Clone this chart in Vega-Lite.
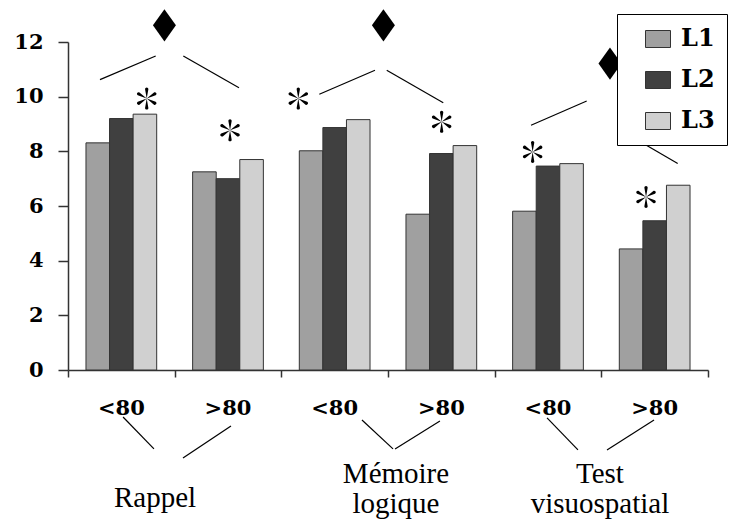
{
  "$schema": "https://vega.github.io/schema/vega-lite/v6.json",
  "autosize": {"type": "none"},
  "padding": {"left": 68, "top": 42, "right": 30, "bottom": 159},
  "width": 640,
  "height": 328,
  "background": "white",
  "config": {
    "view": {"stroke": null},
    "axis": {
      "domainColor": "#333333",
      "tickColor": "#333333",
      "domainWidth": 1.5,
      "tickWidth": 1.5,
      "grid": false,
      "labelFont": "DejaVu Serif",
      "labelFontWeight": "bold",
      "labelFontSize": 21,
      "labelColor": "#000000",
      "title": null
    }
  },
  "datasets": {
    "bars": [
      {"g": "R <80", "s": "L1", "v": 8.31},
      {"g": "R <80", "s": "L2", "v": 9.2},
      {"g": "R <80", "s": "L3", "v": 9.36},
      {"g": "R >80", "s": "L1", "v": 7.25},
      {"g": "R >80", "s": "L2", "v": 7.0},
      {"g": "R >80", "s": "L3", "v": 7.7},
      {"g": "M <80", "s": "L1", "v": 8.02},
      {"g": "M <80", "s": "L2", "v": 8.87},
      {"g": "M <80", "s": "L3", "v": 9.16},
      {"g": "M >80", "s": "L1", "v": 5.7},
      {"g": "M >80", "s": "L2", "v": 7.92},
      {"g": "M >80", "s": "L3", "v": 8.21},
      {"g": "T <80", "s": "L1", "v": 5.81},
      {"g": "T <80", "s": "L2", "v": 7.46},
      {"g": "T <80", "s": "L3", "v": 7.55},
      {"g": "T >80", "s": "L1", "v": 4.43},
      {"g": "T >80", "s": "L2", "v": 5.46},
      {"g": "T >80", "s": "L3", "v": 6.76}
    ],
    "ann": [
      {"kind": "line", "x": 0.300, "y": 10.625, "x2": 0.822, "y2": 11.49},
      {"kind": "line", "x": 1.081, "y": 11.49, "x2": 1.603, "y2": 10.33},
      {"kind": "line", "x": 2.356, "y": 10.09, "x2": 2.878, "y2": 10.965},
      {"kind": "line", "x": 2.988, "y": 10.965, "x2": 3.518, "y2": 9.78},
      {"kind": "line", "x": 4.341, "y": 8.955, "x2": 4.863, "y2": 9.84},
      {"kind": "line", "x": 5.197, "y": 8.735, "x2": 5.716, "y2": 7.555},
      {"kind": "line", "x": 0.516, "y": -1.718, "x2": 0.806, "y2": -2.887},
      {"kind": "line", "x": 1.078, "y": -3.216, "x2": 1.528, "y2": -2.047},
      {"kind": "line", "x": 2.756, "y": -1.827, "x2": 3.047, "y2": -2.887},
      {"kind": "line", "x": 3.066, "y": -2.887, "x2": 3.487, "y2": -1.864},
      {"kind": "line", "x": 4.491, "y": -1.754, "x2": 4.781, "y2": -2.924},
      {"kind": "line", "x": 5.053, "y": -2.924, "x2": 5.494, "y2": -1.827},
      {"kind": "diamond", "x": 0.904, "y": 12.61},
      {"kind": "diamond", "x": 2.957, "y": 12.61},
      {"kind": "diamond", "x": 5.081, "y": 11.21},
      {"kind": "star", "x": 0.738, "y": 9.93},
      {"kind": "star", "x": 1.519, "y": 8.77},
      {"kind": "star", "x": 2.159, "y": 9.93},
      {"kind": "star", "x": 3.503, "y": 9.08},
      {"kind": "star", "x": 4.356, "y": 7.98},
      {"kind": "star", "x": 5.419, "y": 6.33},
      {"kind": "label", "x": 0.816, "y": -5.02, "text": "Rappel"},
      {"kind": "label", "x": 3.075, "y": -4.13, "text": "Mémoire"},
      {"kind": "label", "x": 3.075, "y": -5.23, "text": "logique"},
      {"kind": "label", "x": 4.987, "y": -4.13, "text": "Test"},
      {"kind": "label", "x": 4.987, "y": -5.23, "text": "visuospatial"}
    ]
  },
  "resolve": {"scale": {"x": "independent"}, "axis": {"x": "independent"}},
  "layer": [
    {
      "data": {"name": "bars"},
      "mark": {"type": "bar", "stroke": "#333333", "strokeWidth": 1},
      "encoding": {
        "x": {
          "field": "g", "type": "nominal", "sort": null,
          "scale": {"paddingInner": 0.337, "paddingOuter": 0.1685},
          "axis": {"orient": "bottom", "ticks": false, "tickSize": 0, "domain": false, "labelAngle": 0, "labelPadding": 27,
                   "labelFont": "DejaVu Serif", "labelFontWeight": "bold", "labelFontSize": 21, "labelExpr": "slice(datum.value, 2)"}
        },
        "xOffset": {"field": "s", "type": "nominal"},
        "y": {
          "field": "v", "type": "quantitative",
          "scale": {"domain": [0, 12], "nice": false, "zero": true},
          "axis": {"values": [0, 2, 4, 6, 8, 10, 12], "tickSize": 10, "labelPadding": 15,
                   "labelFont": "DejaVu Serif", "labelFontWeight": "bold", "labelFontSize": 21}
        },
        "color": {
          "field": "s", "type": "nominal",
          "scale": {"domain": ["L1", "L2", "L3"], "range": ["#a0a0a0", "#404040", "#d0d0d0"]},
          "legend": {
            "title": null,
            "orient": "none",
            "legendX": 549,
            "legendY": -28,
            "padding": 12,
            "strokeColor": "#000000",
            "fillColor": "#ffffff",
            "symbolType": "M-1,-0.68L1,-0.68L1,0.68L-1,0.68Z",
            "symbolSize": 625,
            "symbolStrokeColor": "#333333",
            "symbolStrokeWidth": 1,
            "symbolOpacity": 1,
            "symbolOffset": 16,
            "rowPadding": 16,
            "labelOffset": 10,
            "labelFont": "DejaVu Serif",
            "labelFontWeight": "bold",
            "labelFontSize": 24,
            "labelColor": "#000000",
            "labelExpr": "datum.label + '\u00a0\u00a0\u00a0\u00a0\u00a0'"
          }
        }
      }
    },
    {
      "data": {"name": "ann"},
      "layer": [
        {
          "transform": [{"filter": "datum.kind === 'line'"}],
          "mark": {"type": "rule", "color": "#000000", "strokeWidth": 1.2},
          "encoding": {
            "x": {"field": "x", "type": "quantitative", "scale": {"domain": [0, 6], "nice": false, "zero": false},
                  "axis": {"orient": "bottom", "values": [0, 1, 2, 3, 4, 5, 6], "labels": false, "tickSize": 7, "domain": true}},
            "x2": {"field": "x2"},
            "y": {"field": "y", "type": "quantitative"},
            "y2": {"field": "y2"}
          }
        },
        {
          "transform": [{"filter": "datum.kind === 'diamond'"}],
          "mark": {"type": "point", "shape": "M0,-1.4L1,0L0,1.4L-1,0Z", "filled": true, "color": "#000000", "opacity": 1, "size": 529},
          "encoding": {
            "x": {"field": "x", "type": "quantitative"},
            "y": {"field": "y", "type": "quantitative"}
          }
        },
        {
          "transform": [{"filter": "datum.kind === 'star'"}],
          "mark": {"type": "point", "shape": "M0,0L-0.15,-0.85A0.15,0.15 0 1 1 0.15,-0.85ZM0,0L0.661,-0.555A0.15,0.15 0 1 1 0.811,-0.295ZM0,0L0.811,0.295A0.15,0.15 0 1 1 0.661,0.555ZM0,0L0.15,0.85A0.15,0.15 0 1 1 -0.15,0.85ZM0,0L-0.661,0.555A0.15,0.15 0 1 1 -0.811,0.295ZM0,0L-0.811,-0.295A0.15,0.15 0 1 1 -0.661,-0.555Z", "filled": true, "color": "#000000", "opacity": 1, "size": 484},
          "encoding": {
            "x": {"field": "x", "type": "quantitative"},
            "y": {"field": "y", "type": "quantitative"}
          }
        },
        {
          "transform": [{"filter": "datum.kind === 'label'"}],
          "mark": {"type": "text", "font": "Liberation Serif", "fontSize": 29, "align": "center", "baseline": "alphabetic", "color": "#000000"},
          "encoding": {
            "x": {"field": "x", "type": "quantitative"},
            "y": {"field": "y", "type": "quantitative"},
            "text": {"field": "text"}
          }
        }
      ]
    }
  ]
}
